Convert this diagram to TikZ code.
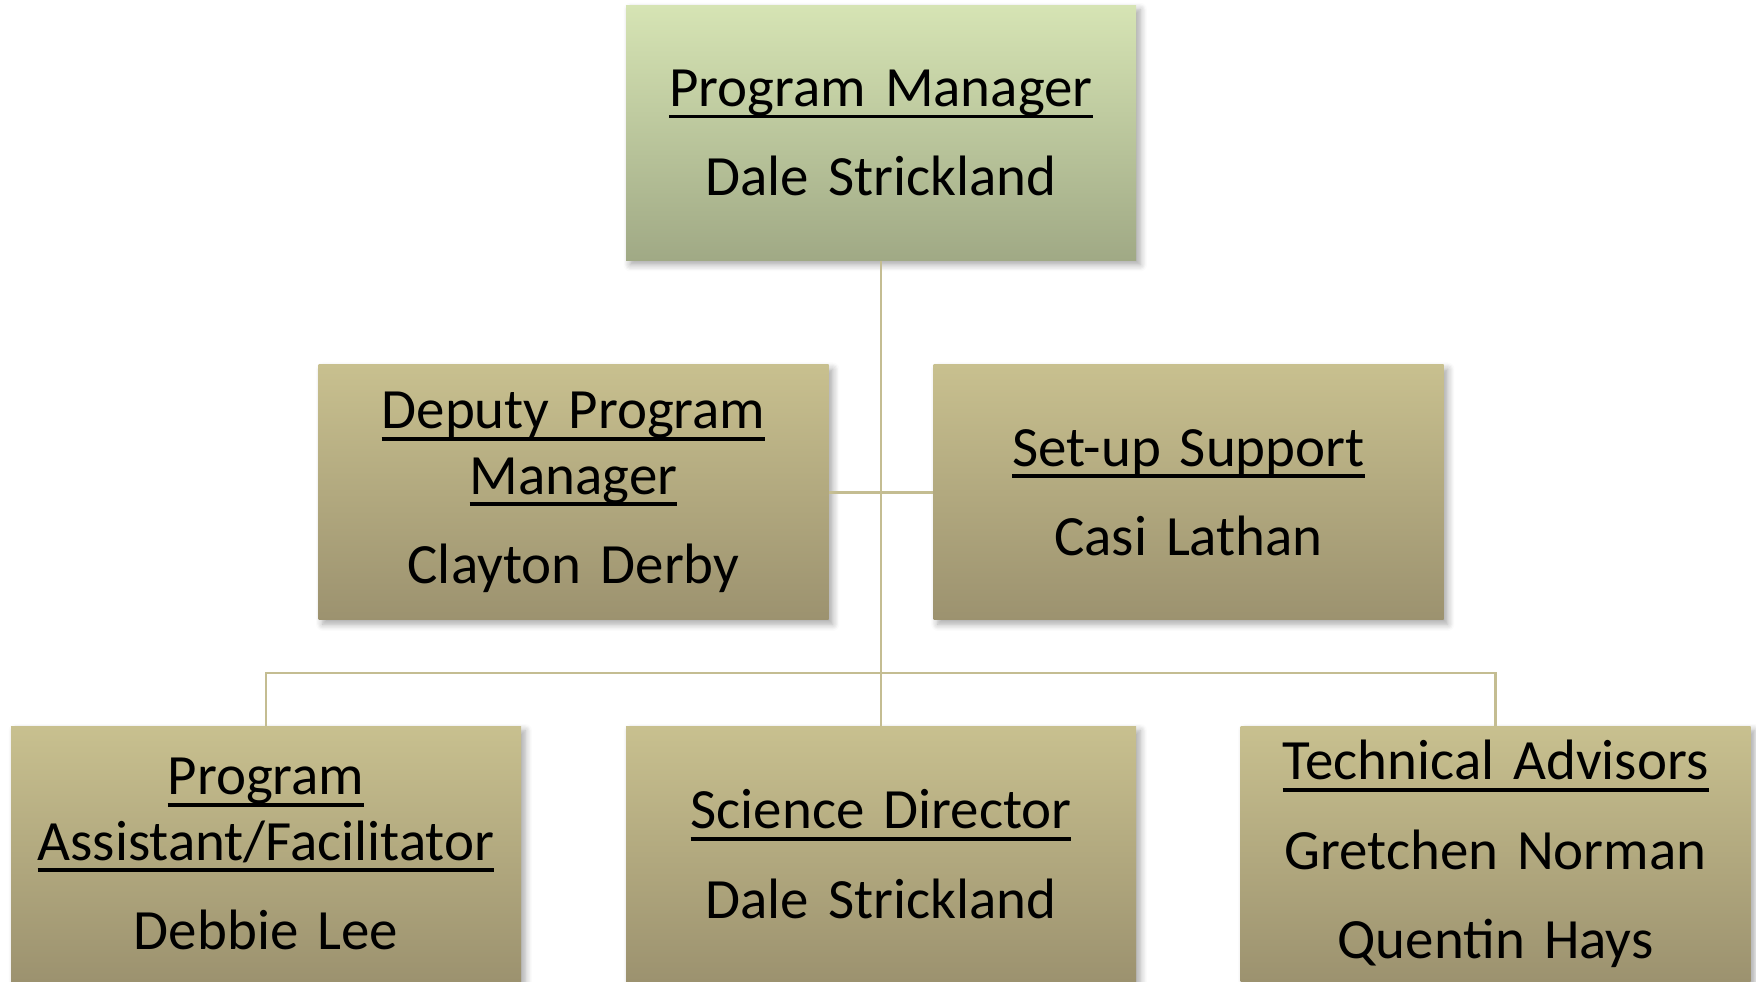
\documentclass[tikz,border=0pt]{standalone}
\usepackage{fontspec}
\setmainfont{Carlito}
\usetikzlibrary{shadows.blur}

\definecolor{pmtop}{HTML}{D6E4B4}
\definecolor{pmbot}{HTML}{A0A985}
\definecolor{tantop}{HTML}{C8C08F}
\definecolor{tanbot}{HTML}{9C926F}
\definecolor{linkcol}{HTML}{C4BD92}

% underlined title line
\newcommand{\ttl}[1]{\leavevmode\setbox0\hbox{#1}\rlap{\rule[-3.4pt]{\wd0}{1.05pt}}\box0}

\begin{document}
\begin{tikzpicture}[
    post/.style={minimum width=5.1cm, minimum height=2.55cm, inner sep=0pt,
        text width=5cm, align=center, font=\fontsize{16.2}{18.6}\selectfont,
        top color=tantop, bottom color=tanbot,
        blur shadow={shadow xshift=1.2pt, shadow yshift=-1.2pt, shadow blur steps=6, shadow opacity=35}},
    chief/.style={post, top color=pmtop, bottom color=pmbot},
    link/.style={draw=linkcol, line width=0.7pt}]
    \useasboundingbox (0,0) rectangle (17.56,9.82);

    \node[chief] (pm) at (8.81,8.49) {\ttl{Program Manager}\\[6.8pt] Dale Strickland};
    \node[post] (deputy) at (5.735,4.895) {\ttl{Deputy Program}\\\ttl{Manager}\\[6.8pt] Clayton Derby};
    \node[post] (setup) at (11.885,4.895) {\ttl{Set-up Support}\\[6.8pt] Casi Lathan};
    \node[post] (assist) at (2.66,1.28) {\ttl{Program}\\\ttl{Assistant/Facilitator}\\[6.8pt] Debbie Lee};
    \node[post] (science) at (8.81,1.28) {\ttl{Science Director}\\[6.8pt] Dale Strickland};
    \node[post] (tech) at (14.955,1.28) {\ttl{Technical Advisors}\\[6.8pt] Gretchen Norman\\[6.8pt] Quentin Hays};

    \coordinate (bar) at (8.81,3.09);
    \draw[link] (pm.south) -- (science.north);
    \draw[link] (deputy.east) -- (setup.west);
    \draw[link] (assist.north) |- (bar) -| (tech.north);
\end{tikzpicture}
\end{document}
